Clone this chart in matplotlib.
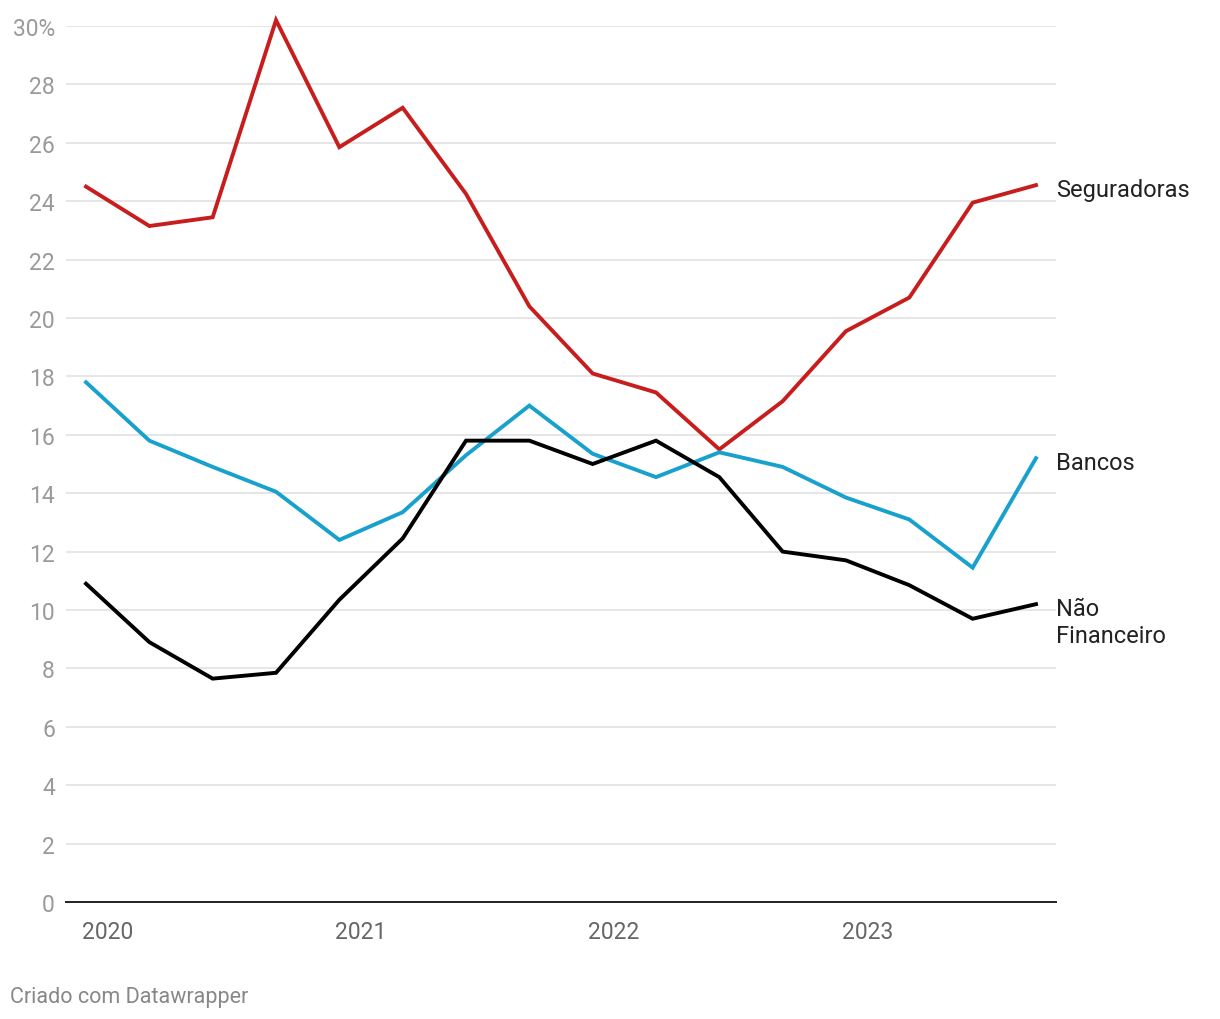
import matplotlib.pyplot as plt

plt.rcParams['font.family'] = ['Roboto', 'DejaVu Sans']

quarters = list(range(16))
seguradoras = [24.5, 23.15, 23.45, 30.2, 25.85, 27.2, 24.25, 20.4, 18.1, 17.45,
               15.5, 17.15, 19.55, 20.7, 23.95, 24.55]
bancos = [17.8, 15.8, 14.9, 14.05, 12.4, 13.35, 15.3, 17.0, 15.35, 14.55,
          15.4, 14.9, 13.85, 13.1, 11.45, 15.2]
nao_financeiro = [10.9, 8.9, 7.65, 7.85, 10.35, 12.45, 15.8, 15.8, 15.0, 15.8,
                  14.55, 12.0, 11.7, 10.85, 9.7, 10.2]
year_labels = ['2020', '2021', '2022', '2023']
year_pos = [-0.07, 3.93, 7.93, 11.93]
y_ticks = list(range(0, 31, 2))

fig = plt.figure(figsize=(12.2, 10.2), dpi=100)
ax = fig.add_axes([66 / 1220, 1 - 903 / 1020, 990 / 1220, 876 / 1020])

series = [
    (seguradoras, '#c71e1d', 'Seguradoras', -3),
    (bancos, '#18a1cd', 'Bancos', -3),
    (nao_financeiro, '#000000', 'Não\nFinanceiro', -13),
]
for vals, color, name, dy in series:
    ax.plot(quarters, vals, color=color, lw=2.8, clip_on=False, zorder=3,
            solid_joinstyle='miter')
    ax.annotate(name, xy=(1.0, vals[-1]), xycoords=('axes fraction', 'data'),
                xytext=(0, dy), textcoords='offset points',
                fontsize=17, color='#222222', va='center', ha='left',
                linespacing=1.25)

ax.set_xlim(-0.316, 15.316)
ax.set_ylim(0, 30)
ax.set_yticks(y_ticks)
ax.set_yticklabels([str(v) if v < 30 else '30%' for v in y_ticks])
ax.grid(axis='y', color='#e2e2e2', lw=1.2)
ax.set_axisbelow(True)
ax.tick_params(axis='y', length=0, pad=8, labelsize=16.5, labelcolor='#9a9a9a')
for s in ['top', 'right', 'left']:
    ax.spines[s].set_visible(False)
ax.spines['bottom'].set_color('#222222')
ax.spines['bottom'].set_linewidth(1.4)

ax.set_xticks(year_pos)
ax.set_xticklabels(year_labels, ha='left')
ax.tick_params(axis='x', length=0, pad=13, labelsize=16.5, labelcolor='#666666')

fig.text(10 / 1220, 1 - 998 / 1020, 'Criado com Datawrapper', fontsize=15.5,
         color='#888888', va='center', ha='left')

fig.savefig('out.png', dpi=100)
